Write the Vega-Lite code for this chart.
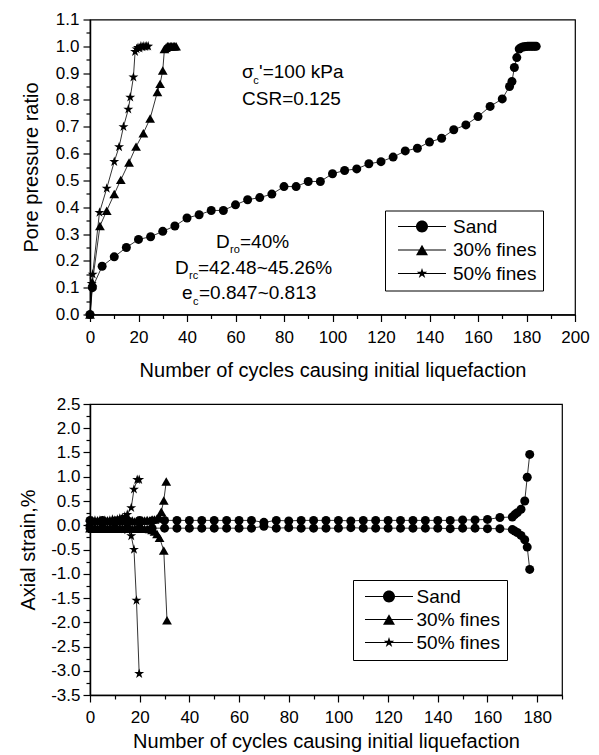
{
  "$schema": "https://vega.github.io/schema/vega-lite/v6.json",
  "padding": {"left": 17, "top": 9.5, "right": 5, "bottom": 0},
  "spacing": 12.5,
  "columns": 1,
  "align": "none",
  "datasets": {
    "top": [
      {"s":"Sand","n":0,"v":0},{"s":"Sand","n":1,"v":0.1},{"s":"Sand","n":5,"v":0.18},{"s":"Sand","n":10,"v":0.215},{"s":"Sand","n":15,"v":0.25},{"s":"Sand","n":20,"v":0.28},{"s":"Sand","n":25,"v":0.29},{"s":"Sand","n":30,"v":0.31},{"s":"Sand","n":35,"v":0.33},{"s":"Sand","n":40,"v":0.36},{"s":"Sand","n":45,"v":0.372},{"s":"Sand","n":50,"v":0.388},{"s":"Sand","n":55,"v":0.388},{"s":"Sand","n":60,"v":0.409},{"s":"Sand","n":65,"v":0.428},{"s":"Sand","n":70,"v":0.436},{"s":"Sand","n":75,"v":0.449},{"s":"Sand","n":80,"v":0.477},{"s":"Sand","n":85,"v":0.477},{"s":"Sand","n":90,"v":0.496},{"s":"Sand","n":95,"v":0.496},{"s":"Sand","n":100,"v":0.525},{"s":"Sand","n":105,"v":0.537},{"s":"Sand","n":110,"v":0.543},{"s":"Sand","n":115,"v":0.562},{"s":"Sand","n":120,"v":0.57},{"s":"Sand","n":125,"v":0.587},{"s":"Sand","n":130,"v":0.61},{"s":"Sand","n":135,"v":0.62},{"s":"Sand","n":140,"v":0.643},{"s":"Sand","n":145,"v":0.657},{"s":"Sand","n":150,"v":0.689},{"s":"Sand","n":155,"v":0.707},{"s":"Sand","n":160,"v":0.738},{"s":"Sand","n":165,"v":0.776},{"s":"Sand","n":170,"v":0.804},{"s":"Sand","n":173,"v":0.85},{"s":"Sand","n":174,"v":0.869},{"s":"Sand","n":175,"v":0.921},{"s":"Sand","n":176,"v":0.958},{"s":"Sand","n":177,"v":0.99},{"s":"Sand","n":177.7,"v":0.995},{"s":"Sand","n":178.4,"v":0.997},{"s":"Sand","n":179.1,"v":0.998},{"s":"Sand","n":179.8,"v":0.999},{"s":"Sand","n":180.5,"v":1.0},{"s":"Sand","n":181.2,"v":1.0},{"s":"Sand","n":181.9,"v":1.0},{"s":"Sand","n":182.6,"v":1.0},{"s":"Sand","n":183.3,"v":1.0},{"s":"Sand","n":184,"v":1.0},
      {"s":"30% fines","n":0,"v":0},{"s":"30% fines","n":1,"v":0.12},{"s":"30% fines","n":4.1,"v":0.33},{"s":"30% fines","n":6.9,"v":0.387},{"s":"30% fines","n":10,"v":0.449},{"s":"30% fines","n":12.7,"v":0.502},{"s":"30% fines","n":16.1,"v":0.567},{"s":"30% fines","n":19,"v":0.626},{"s":"30% fines","n":22,"v":0.676},{"s":"30% fines","n":24.8,"v":0.731},{"s":"30% fines","n":27.8,"v":0.83},{"s":"30% fines","n":28.9,"v":0.86},{"s":"30% fines","n":30,"v":0.91},{"s":"30% fines","n":30.7,"v":0.99},{"s":"30% fines","n":31.3,"v":0.995},{"s":"30% fines","n":31.9,"v":1.0},{"s":"30% fines","n":32.5,"v":1.0},{"s":"30% fines","n":33.1,"v":1.0},{"s":"30% fines","n":33.7,"v":1.0},{"s":"30% fines","n":34.3,"v":1.0},{"s":"30% fines","n":34.9,"v":1.0},{"s":"30% fines","n":35.5,"v":1.0},
      {"s":"50% fines","n":0,"v":0},{"s":"50% fines","n":0.7,"v":0.115},{"s":"50% fines","n":1.1,"v":0.15},{"s":"50% fines","n":3.9,"v":0.38},{"s":"50% fines","n":6.9,"v":0.47},{"s":"50% fines","n":10,"v":0.57},{"s":"50% fines","n":12,"v":0.625},{"s":"50% fines","n":13.8,"v":0.7},{"s":"50% fines","n":15.8,"v":0.765},{"s":"50% fines","n":16.6,"v":0.81},{"s":"50% fines","n":17.9,"v":0.885},{"s":"50% fines","n":18.6,"v":0.98},{"s":"50% fines","n":19.2,"v":0.99},{"s":"50% fines","n":19.8,"v":0.995},{"s":"50% fines","n":20.4,"v":0.993},{"s":"50% fines","n":21,"v":1.0},{"s":"50% fines","n":21.6,"v":0.997},{"s":"50% fines","n":22.2,"v":1.0},{"s":"50% fines","n":22.8,"v":0.998},{"s":"50% fines","n":23.4,"v":1.0},{"s":"50% fines","n":24,"v":1.0}
    ],
    "bottom": [
      {"s":"Sand","b":"u","n":0,"v":0.1},{"s":"Sand","b":"u","n":5,"v":0.1},{"s":"Sand","b":"u","n":10,"v":0.09},{"s":"Sand","b":"u","n":15,"v":0.1},{"s":"Sand","b":"u","n":20,"v":0.1},{"s":"Sand","b":"u","n":25,"v":0.09},{"s":"Sand","b":"u","n":30,"v":0.1},{"s":"Sand","b":"u","n":35,"v":0.1},{"s":"Sand","b":"u","n":40,"v":0.1},{"s":"Sand","b":"u","n":45,"v":0.1},{"s":"Sand","b":"u","n":50,"v":0.1},{"s":"Sand","b":"u","n":55,"v":0.1},{"s":"Sand","b":"u","n":60,"v":0.1},{"s":"Sand","b":"u","n":65,"v":0.1},{"s":"Sand","b":"u","n":70,"v":0.06},{"s":"Sand","b":"u","n":75,"v":0.1},{"s":"Sand","b":"u","n":80,"v":0.09},{"s":"Sand","b":"u","n":85,"v":0.1},{"s":"Sand","b":"u","n":90,"v":0.1},{"s":"Sand","b":"u","n":95,"v":0.1},{"s":"Sand","b":"u","n":100,"v":0.1},{"s":"Sand","b":"u","n":105,"v":0.09},{"s":"Sand","b":"u","n":110,"v":0.1},{"s":"Sand","b":"u","n":115,"v":0.1},{"s":"Sand","b":"u","n":120,"v":0.1},{"s":"Sand","b":"u","n":125,"v":0.1},{"s":"Sand","b":"u","n":130,"v":0.1},{"s":"Sand","b":"u","n":135,"v":0.1},{"s":"Sand","b":"u","n":140,"v":0.1},{"s":"Sand","b":"u","n":145,"v":0.1},{"s":"Sand","b":"u","n":150,"v":0.11},{"s":"Sand","b":"u","n":155,"v":0.11},{"s":"Sand","b":"u","n":160,"v":0.12},{"s":"Sand","b":"u","n":165,"v":0.16},{"s":"Sand","b":"u","n":170,"v":0.17},{"s":"Sand","b":"u","n":171,"v":0.22},{"s":"Sand","b":"u","n":172,"v":0.26},{"s":"Sand","b":"u","n":173.5,"v":0.33},{"s":"Sand","b":"u","n":175,"v":0.5},{"s":"Sand","b":"u","n":176,"v":0.99},{"s":"Sand","b":"u","n":177,"v":1.46},
      {"s":"Sand","b":"d","n":0,"v":-0.06},{"s":"Sand","b":"d","n":5,"v":-0.06},{"s":"Sand","b":"d","n":10,"v":-0.06},{"s":"Sand","b":"d","n":15,"v":-0.06},{"s":"Sand","b":"d","n":20,"v":-0.06},{"s":"Sand","b":"d","n":25,"v":-0.06},{"s":"Sand","b":"d","n":30,"v":-0.06},{"s":"Sand","b":"d","n":35,"v":-0.06},{"s":"Sand","b":"d","n":40,"v":-0.06},{"s":"Sand","b":"d","n":45,"v":-0.06},{"s":"Sand","b":"d","n":50,"v":-0.06},{"s":"Sand","b":"d","n":55,"v":-0.06},{"s":"Sand","b":"d","n":60,"v":-0.06},{"s":"Sand","b":"d","n":65,"v":-0.06},{"s":"Sand","b":"d","n":70,"v":-0.02},{"s":"Sand","b":"d","n":75,"v":-0.06},{"s":"Sand","b":"d","n":80,"v":-0.05},{"s":"Sand","b":"d","n":85,"v":-0.06},{"s":"Sand","b":"d","n":90,"v":-0.06},{"s":"Sand","b":"d","n":95,"v":-0.06},{"s":"Sand","b":"d","n":100,"v":-0.06},{"s":"Sand","b":"d","n":105,"v":-0.05},{"s":"Sand","b":"d","n":110,"v":-0.06},{"s":"Sand","b":"d","n":115,"v":-0.06},{"s":"Sand","b":"d","n":120,"v":-0.06},{"s":"Sand","b":"d","n":125,"v":-0.06},{"s":"Sand","b":"d","n":130,"v":-0.06},{"s":"Sand","b":"d","n":135,"v":-0.06},{"s":"Sand","b":"d","n":140,"v":-0.06},{"s":"Sand","b":"d","n":145,"v":-0.07},{"s":"Sand","b":"d","n":150,"v":-0.06},{"s":"Sand","b":"d","n":155,"v":-0.06},{"s":"Sand","b":"d","n":160,"v":-0.07},{"s":"Sand","b":"d","n":165,"v":-0.07},{"s":"Sand","b":"d","n":170,"v":-0.09},{"s":"Sand","b":"d","n":171,"v":-0.12},{"s":"Sand","b":"d","n":172,"v":-0.15},{"s":"Sand","b":"d","n":173.5,"v":-0.21},{"s":"Sand","b":"d","n":175,"v":-0.3},{"s":"Sand","b":"d","n":176,"v":-0.45},{"s":"Sand","b":"d","n":177,"v":-0.91},
      {"s":"30% fines","b":"u","n":0,"v":0.08},{"s":"30% fines","b":"u","n":1,"v":0.1},{"s":"30% fines","b":"u","n":2,"v":0.08},{"s":"30% fines","b":"u","n":3,"v":0.1},{"s":"30% fines","b":"u","n":4,"v":0.09},{"s":"30% fines","b":"u","n":5,"v":0.1},{"s":"30% fines","b":"u","n":6,"v":0.08},{"s":"30% fines","b":"u","n":7,"v":0.1},{"s":"30% fines","b":"u","n":8,"v":0.09},{"s":"30% fines","b":"u","n":9,"v":0.1},{"s":"30% fines","b":"u","n":10,"v":0.08},{"s":"30% fines","b":"u","n":11,"v":0.1},{"s":"30% fines","b":"u","n":12,"v":0.09},{"s":"30% fines","b":"u","n":13,"v":0.1},{"s":"30% fines","b":"u","n":14,"v":0.08},{"s":"30% fines","b":"u","n":15,"v":0.1},{"s":"30% fines","b":"u","n":16,"v":0.09},{"s":"30% fines","b":"u","n":17,"v":0.1},{"s":"30% fines","b":"u","n":18,"v":0.08},{"s":"30% fines","b":"u","n":19,"v":0.1},{"s":"30% fines","b":"u","n":20,"v":0.09},{"s":"30% fines","b":"u","n":21,"v":0.1},{"s":"30% fines","b":"u","n":22,"v":0.1},{"s":"30% fines","b":"u","n":23,"v":0.11},{"s":"30% fines","b":"u","n":24,"v":0.1},{"s":"30% fines","b":"u","n":25,"v":0.12},{"s":"30% fines","b":"u","n":26,"v":0.12},{"s":"30% fines","b":"u","n":27,"v":0.14},{"s":"30% fines","b":"u","n":28,"v":0.16},{"s":"30% fines","b":"u","n":28.7,"v":0.28},{"s":"30% fines","b":"u","n":29.7,"v":0.51},{"s":"30% fines","b":"u","n":30.7,"v":0.9},
      {"s":"30% fines","b":"d","n":0,"v":-0.06},{"s":"30% fines","b":"d","n":1,"v":-0.07},{"s":"30% fines","b":"d","n":2,"v":-0.06},{"s":"30% fines","b":"d","n":3,"v":-0.07},{"s":"30% fines","b":"d","n":4,"v":-0.06},{"s":"30% fines","b":"d","n":5,"v":-0.07},{"s":"30% fines","b":"d","n":6,"v":-0.06},{"s":"30% fines","b":"d","n":7,"v":-0.07},{"s":"30% fines","b":"d","n":8,"v":-0.06},{"s":"30% fines","b":"d","n":9,"v":-0.07},{"s":"30% fines","b":"d","n":10,"v":-0.06},{"s":"30% fines","b":"d","n":11,"v":-0.07},{"s":"30% fines","b":"d","n":12,"v":-0.06},{"s":"30% fines","b":"d","n":13,"v":-0.07},{"s":"30% fines","b":"d","n":14,"v":-0.06},{"s":"30% fines","b":"d","n":15,"v":-0.07},{"s":"30% fines","b":"d","n":16,"v":-0.06},{"s":"30% fines","b":"d","n":17,"v":-0.07},{"s":"30% fines","b":"d","n":18,"v":-0.06},{"s":"30% fines","b":"d","n":19,"v":-0.07},{"s":"30% fines","b":"d","n":20,"v":-0.06},{"s":"30% fines","b":"d","n":21,"v":-0.07},{"s":"30% fines","b":"d","n":22,"v":-0.07},{"s":"30% fines","b":"d","n":23,"v":-0.07},{"s":"30% fines","b":"d","n":24,"v":-0.08},{"s":"30% fines","b":"d","n":25,"v":-0.1},{"s":"30% fines","b":"d","n":26,"v":-0.13},{"s":"30% fines","b":"d","n":27,"v":-0.18},{"s":"30% fines","b":"d","n":28,"v":-0.26},{"s":"30% fines","b":"d","n":29.7,"v":-0.52},{"s":"30% fines","b":"d","n":31,"v":-1.96},
      {"s":"50% fines","b":"u","n":0,"v":0.05},{"s":"50% fines","b":"u","n":1,"v":0.08},{"s":"50% fines","b":"u","n":2,"v":0.1},{"s":"50% fines","b":"u","n":3,"v":0.08},{"s":"50% fines","b":"u","n":4,"v":0.1},{"s":"50% fines","b":"u","n":5,"v":0.09},{"s":"50% fines","b":"u","n":6,"v":0.1},{"s":"50% fines","b":"u","n":7,"v":0.08},{"s":"50% fines","b":"u","n":8,"v":0.1},{"s":"50% fines","b":"u","n":9,"v":0.12},{"s":"50% fines","b":"u","n":10,"v":0.1},{"s":"50% fines","b":"u","n":11,"v":0.12},{"s":"50% fines","b":"u","n":12,"v":0.14},{"s":"50% fines","b":"u","n":13,"v":0.15},{"s":"50% fines","b":"u","n":14,"v":0.18},{"s":"50% fines","b":"u","n":15,"v":0.22},{"s":"50% fines","b":"u","n":16.6,"v":0.36},{"s":"50% fines","b":"u","n":17.7,"v":0.74},{"s":"50% fines","b":"u","n":19,"v":0.94},{"s":"50% fines","b":"u","n":19.8,"v":0.94},
      {"s":"50% fines","b":"d","n":0,"v":-0.05},{"s":"50% fines","b":"d","n":1,"v":-0.06},{"s":"50% fines","b":"d","n":2,"v":-0.05},{"s":"50% fines","b":"d","n":3,"v":-0.06},{"s":"50% fines","b":"d","n":4,"v":-0.05},{"s":"50% fines","b":"d","n":5,"v":-0.06},{"s":"50% fines","b":"d","n":6,"v":-0.05},{"s":"50% fines","b":"d","n":7,"v":-0.06},{"s":"50% fines","b":"d","n":8,"v":-0.05},{"s":"50% fines","b":"d","n":9,"v":-0.06},{"s":"50% fines","b":"d","n":10,"v":-0.06},{"s":"50% fines","b":"d","n":11,"v":-0.07},{"s":"50% fines","b":"d","n":12,"v":-0.06},{"s":"50% fines","b":"d","n":13,"v":-0.07},{"s":"50% fines","b":"d","n":14,"v":-0.08},{"s":"50% fines","b":"d","n":15,"v":-0.1},{"s":"50% fines","b":"d","n":16.6,"v":-0.22},{"s":"50% fines","b":"d","n":17.7,"v":-0.5},{"s":"50% fines","b":"d","n":18.7,"v":-1.55},{"s":"50% fines","b":"d","n":19.8,"v":-3.06}
    ]
  },
  "concat": [
    {
      "width": 485,
      "height": 295,
      "resolve": {"scale": {"shape": "independent", "size": "independent"}, "axis": {"x": "independent", "y": "independent"}},
      "layer": [
        {
          "data": {"name": "top"},
          "mark": {"type": "line", "color": "black", "strokeWidth": 0.8},
          "encoding": {
            "x": {"field": "n", "type": "quantitative", "scale": {"domain": [0, 200], "nice": false, "zero": false},
              "axis": {"orient": "bottom", "title": "Number of cycles causing initial liquefaction", "values": [0,20,40,60,80,100,120,140,160,180,200],
                "tickSize": 7, "labelPadding": 7.5, "titlePadding": 15.5, "labelFlush": false, "labelOverlap": false}},
            "y": {"field": "v", "type": "quantitative", "scale": {"domain": [0, 1.1], "nice": false, "zero": false},
              "axis": {"orient": "left", "title": "Pore pressure ratio", "values": [0,0.1,0.2,0.3,0.4,0.5,0.6,0.7,0.8,0.9,1,1.1], "format": ".1f",
                "tickSize": 7, "labelPadding": 4, "titlePadding": 14, "labelFlush": false, "labelOverlap": false}},
            "detail": {"field": "s"}
          }
        },
        {
          "data": {"name": "top"},
          "mark": {"type": "point", "filled": true, "color": "black", "opacity": 1},
          "encoding": {
            "x": {"field": "n", "type": "quantitative", "axis": null},
            "y": {"field": "v", "type": "quantitative", "axis": null},
            "shape": {"field": "s", "type": "nominal", "legend": null, "scale": {"domain": ["Sand", "30% fines", "50% fines"], "range": ["circle", "triangle-up", "M0,-1L0.2245,-0.309L0.951,-0.309L0.363,0.118L0.588,0.809L0,0.382L-0.588,0.809L-0.363,0.118L-0.951,-0.309L-0.2245,-0.309Z"]}},
            "size": {"field": "s", "type": "nominal", "legend": null, "scale": {"domain": ["Sand", "30% fines", "50% fines"], "range": [81, 110, 110]}}
          }
        },
        {
          "data": {"name": "top"},
          "transform": [{"filter": "datum.n < -1000"}],
          "mark": {"type": "point", "filled": true, "color": "black", "opacity": 1},
          "encoding": {
            "x": {"field": "n", "type": "quantitative",
              "axis": {"orient": "bottom", "title": null, "values": [10,30,50,70,90,110,130,150,170,190], "labels": false, "domain": false, "tickSize": 4}},
            "y": {"field": "v", "type": "quantitative",
              "axis": {"orient": "left", "title": null, "values": [0.05,0.15,0.25,0.35,0.45,0.55,0.65,0.75,0.85,0.95,1.05], "labels": false, "domain": false, "tickSize": 4}},
            "shape": {"field": "s", "type": "nominal",
              "scale": {"domain": ["Sand", "30% fines", "50% fines"], "range": [
                "M-3.43,-0.08H3.43V0.08H-3.43ZM0.857,0A0.857,0.857 0 1,1 -0.857,0A0.857,0.857 0 1,1 0.857,0Z",
                "M-3.43,-0.08H3.43V0.08H-3.43ZM0,-0.742L0.857,0.742L-0.857,0.742Z",
                "M-3.43,-0.08H3.43V0.08H-3.43ZM0,-0.786L0.1764,-0.2429L0.7475,-0.2429L0.2854,0.0927L0.462,0.636L0,0.3L-0.462,0.636L-0.2854,0.0927L-0.7475,-0.2429L-0.1764,-0.2429Z"]},
              "legend": {"title": null, "orient": "none", "legendX": 295, "legendY": 191, "direction": "vertical",
                "symbolSize": 196, "symbolOffset": 21, "labelOffset": 21.5, "padding": 6.5, "rowPadding": 3.5,
                "strokeColor": "black", "fillColor": "white", "labelFont": "Liberation Sans", "labelFontSize": 19, "labelColor": "black", "labelLimit": 0,
                "symbolFillColor": "black", "symbolStrokeWidth": 0,
                "labelExpr": "datum.label + '  '",
                "encode": {"symbols": {"fill": {"value": "black"}, "strokeWidth": {"value": 0}}}}}
          }
        },
        {"data": {"values": [{}]}, "mark": {"type": "text", "text": "σ", "align": "left", "baseline": "middle", "fontSize": 19}, "encoding": {"x": {"datum": 62.7, "axis": null}, "y": {"datum": 0.906, "axis": null}}},
        {"data": {"values": [{}]}, "mark": {"type": "text", "text": "c", "align": "left", "baseline": "middle", "fontSize": 11}, "encoding": {"x": {"datum": 67.3, "axis": null}, "y": {"datum": 0.87, "axis": null}}},
        {"data": {"values": [{}]}, "mark": {"type": "text", "text": "'=100 kPa", "align": "left", "baseline": "middle", "fontSize": 19}, "encoding": {"x": {"datum": 69.7, "axis": null}, "y": {"datum": 0.906, "axis": null}}},
        {"data": {"values": [{}]}, "mark": {"type": "text", "text": "CSR=0.125", "align": "left", "baseline": "middle", "fontSize": 19}, "encoding": {"x": {"datum": 62.7, "axis": null}, "y": {"datum": 0.802, "axis": null}}},
        {"data": {"values": [{}]}, "mark": {"type": "text", "text": "D", "align": "left", "baseline": "middle", "fontSize": 19}, "encoding": {"x": {"datum": 51.96, "axis": null}, "y": {"datum": 0.272, "axis": null}}},
        {"data": {"values": [{}]}, "mark": {"type": "text", "text": "ro", "align": "left", "baseline": "middle", "fontSize": 11}, "encoding": {"x": {"datum": 57.73, "axis": null}, "y": {"datum": 0.239, "axis": null}}},
        {"data": {"values": [{}]}, "mark": {"type": "text", "text": "=40%", "align": "left", "baseline": "middle", "fontSize": 19}, "encoding": {"x": {"datum": 61.86, "axis": null}, "y": {"datum": 0.272, "axis": null}}},
        {"data": {"values": [{}]}, "mark": {"type": "text", "text": "D", "align": "left", "baseline": "middle", "fontSize": 19}, "encoding": {"x": {"datum": 35.05, "axis": null}, "y": {"datum": 0.175, "axis": null}}},
        {"data": {"values": [{}]}, "mark": {"type": "text", "text": "rc", "align": "left", "baseline": "middle", "fontSize": 11}, "encoding": {"x": {"datum": 40.82, "axis": null}, "y": {"datum": 0.142, "axis": null}}},
        {"data": {"values": [{}]}, "mark": {"type": "text", "text": "=42.48~45.26%", "align": "left", "baseline": "middle", "fontSize": 19}, "encoding": {"x": {"datum": 44.54, "axis": null}, "y": {"datum": 0.175, "axis": null}}},
        {"data": {"values": [{}]}, "mark": {"type": "text", "text": "e", "align": "left", "baseline": "middle", "fontSize": 19}, "encoding": {"x": {"datum": 37.94, "axis": null}, "y": {"datum": 0.082, "axis": null}}},
        {"data": {"values": [{}]}, "mark": {"type": "text", "text": "c", "align": "left", "baseline": "middle", "fontSize": 11}, "encoding": {"x": {"datum": 42.47, "axis": null}, "y": {"datum": 0.048, "axis": null}}},
        {"data": {"values": [{}]}, "mark": {"type": "text", "text": "=0.847~0.813", "align": "left", "baseline": "middle", "fontSize": 19}, "encoding": {"x": {"datum": 44.95, "axis": null}, "y": {"datum": 0.082, "axis": null}}}
      ]
    },
    {
      "width": 472,
      "height": 291,
      "resolve": {"scale": {"shape": "independent", "size": "independent"}, "axis": {"x": "independent", "y": "independent"}},
      "layer": [
        {
          "data": {"name": "bottom"},
          "mark": {"type": "line", "color": "black", "strokeWidth": 0.8},
          "encoding": {
            "x": {"field": "n", "type": "quantitative", "scale": {"domain": [0, 190], "nice": false, "zero": false},
              "axis": {"orient": "bottom", "title": "Number of cycles causing initial liquefaction", "values": [0,20,40,60,80,100,120,140,160,180],
                "tickSize": 7, "labelPadding": 7, "titlePadding": 6, "labelFlush": false, "labelOverlap": false}},
            "y": {"field": "v", "type": "quantitative", "scale": {"domain": [-3.5, 2.5], "nice": false, "zero": false},
              "axis": {"orient": "left", "title": "Axial strain,%", "values": [-3.5,-3,-2.5,-2,-1.5,-1,-0.5,0,0.5,1,1.5,2,2.5],
                "labelExpr": "replace(format(datum.value, '.1f'), '\u2212', '-')",
                "tickSize": 7, "labelPadding": 3, "titlePadding": 12.5, "labelFlush": false, "labelOverlap": false}},
            "detail": [{"field": "s"}, {"field": "b"}]
          }
        },
        {
          "data": {"name": "bottom"},
          "mark": {"type": "point", "filled": true, "color": "black", "opacity": 1},
          "encoding": {
            "x": {"field": "n", "type": "quantitative", "axis": null},
            "y": {"field": "v", "type": "quantitative", "axis": null},
            "shape": {"field": "s", "type": "nominal", "legend": null, "scale": {"domain": ["Sand", "30% fines", "50% fines"], "range": ["circle", "triangle-up", "M0,-1L0.2245,-0.309L0.951,-0.309L0.363,0.118L0.588,0.809L0,0.382L-0.588,0.809L-0.363,0.118L-0.951,-0.309L-0.2245,-0.309Z"]}},
            "size": {"field": "s", "type": "nominal", "legend": null, "scale": {"domain": ["Sand", "30% fines", "50% fines"], "range": [81, 110, 110]}}
          }
        },
        {
          "data": {"name": "bottom"},
          "transform": [{"filter": "datum.n < -1000"}],
          "mark": {"type": "point", "filled": true, "color": "black", "opacity": 1},
          "encoding": {
            "x": {"field": "n", "type": "quantitative",
              "axis": {"orient": "bottom", "title": null, "values": [10,30,50,70,90,110,130,150,170,190], "labels": false, "domain": false, "tickSize": 4}},
            "y": {"field": "v", "type": "quantitative",
              "axis": {"orient": "left", "title": null, "values": [-3.25,-2.75,-2.25,-1.75,-1.25,-0.75,-0.25,0.25,0.75,1.25,1.75,2.25], "labels": false, "domain": false, "tickSize": 4}},
            "shape": {"field": "s", "type": "nominal",
              "scale": {"domain": ["Sand", "30% fines", "50% fines"], "range": [
                "M-3.43,-0.08H3.43V0.08H-3.43ZM0.857,0A0.857,0.857 0 1,1 -0.857,0A0.857,0.857 0 1,1 0.857,0Z",
                "M-3.43,-0.08H3.43V0.08H-3.43ZM0,-0.742L0.857,0.742L-0.857,0.742Z",
                "M-3.43,-0.08H3.43V0.08H-3.43ZM0,-0.786L0.1764,-0.2429L0.7475,-0.2429L0.2854,0.0927L0.462,0.636L0,0.3L-0.462,0.636L-0.2854,0.0927L-0.7475,-0.2429L-0.1764,-0.2429Z"]},
              "legend": {"title": null, "orient": "none", "legendX": 263, "legendY": 176, "direction": "vertical",
                "symbolSize": 196, "symbolOffset": 19.5, "labelOffset": 18, "padding": 7, "rowPadding": 3,
                "strokeColor": "black", "fillColor": "white", "labelFont": "Liberation Sans", "labelFontSize": 19, "labelColor": "black", "labelLimit": 0,
                "symbolFillColor": "black", "symbolStrokeWidth": 0,
                "labelExpr": "datum.label + '  '",
                "encode": {"symbols": {"fill": {"value": "black"}, "strokeWidth": {"value": 0}}}}}
          }
        }
      ]
    }
  ],
  "config": {
    "font": "Liberation Sans",
    "background": "white",
    "view": {"stroke": "black", "strokeWidth": 1.2},
    "text": {"color": "black", "font": "Liberation Sans"},
    "axis": {"grid": false, "domainColor": "black", "domainWidth": 1.5, "tickColor": "black", "tickWidth": 1.2,
      "labelOverlap": false,
      "labelColor": "black", "labelFont": "Liberation Sans", "labelFontSize": 17,
      "titleColor": "black", "titleFont": "Liberation Sans", "titleFontSize": 20, "titleFontWeight": "normal"}
  }
}
